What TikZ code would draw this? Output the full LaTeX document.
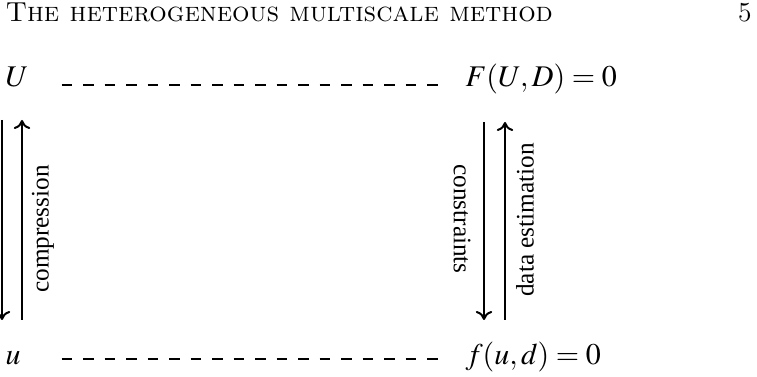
\documentclass[tikz,border=0pt]{standalone}
\usepackage{mathptmx}
\usepackage{fontspec}
\setmainfont{Liberation Serif}
\usetikzlibrary{arrows.meta}
\newcommand\hdfont{\fontfamily{lmr}\fontsize{11}{13}\selectfont}
\tikzset{
  mathlbl/.style={inner sep=0pt, anchor=base west, font=\fontsize{12}{14}\selectfont},
  sidelbl/.style={inner sep=0pt, font=\fontsize{10.1}{12}\selectfont},
  dashline/.style={line width=1.1pt, dash pattern=on 4.2pt off 4.4pt},
  maparrow/.style={line width=0.8pt, -{To[length=3.6pt,width=6.6pt]}},
}
\begin{document}
\begin{tikzpicture}[x=0.4pt,y=-0.4pt]
\useasboundingbox (0,0) rectangle (757,377);
% header
\node[inner sep=0pt, anchor=base west, font=\hdfont] (head) at (5,22) {\scshape The heterogeneous multiscale method};
\node[inner sep=0pt, anchor=base east, font=\hdfont] (page) at (752,22) {5};
% corner labels
\node[mathlbl] (U) at (5,87) {$U$};
\node[mathlbl] (F) at (465,87) {$F(U,D)=0$};
\node[mathlbl] (u) at (5,365) {$u$};
\node[mathlbl] (f) at (465,365) {$f(u,d)=0$};
% dashed links
\coordinate (ts) at (61.7,85);
\coordinate (te) at (437.5,85);
\coordinate (bs) at (61.7,359);
\coordinate (be) at (437.5,359);
\draw[dashline] (ts) -- (te);
\draw[dashline] (bs) -- (be);
% left arrows
\coordinate (l1t) at (2,120);
\coordinate (l1b) at (2,320);
\coordinate (l2t) at (22,120);
\coordinate (l2b) at (22,320);
\draw[maparrow] (l1t) -- (l1b);
\draw[maparrow] (l2b) -- (l2t);
\node[sidelbl, rotate=90] (comp) at (43,229) {compression};
% right arrows
\coordinate (r1t) at (484,122);
\coordinate (r1b) at (484,320);
\coordinate (r2t) at (505,122);
\coordinate (r2b) at (505,320);
\draw[maparrow] (r1t) -- (r1b);
\draw[maparrow] (r2b) -- (r2t);
\node[sidelbl, rotate=-90] (cons) at (462,219) {constraints};
\node[sidelbl, rotate=90] (data) at (525,220) {data estimation};
\end{tikzpicture}
\end{document}
